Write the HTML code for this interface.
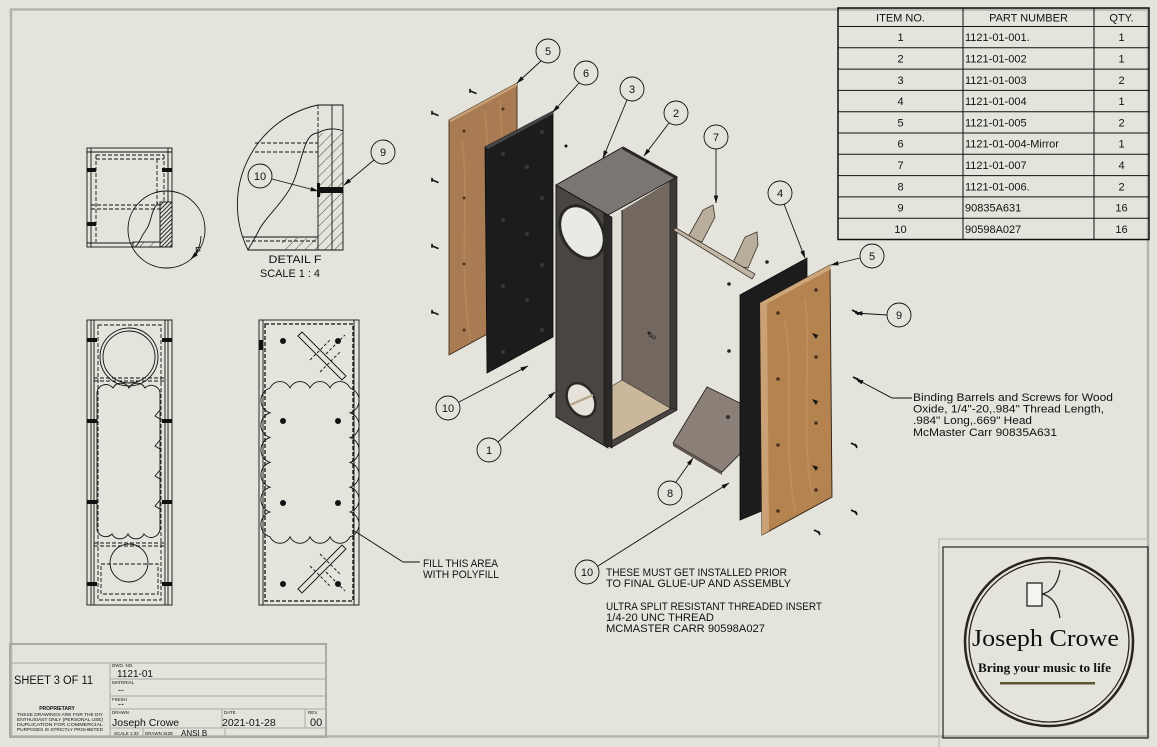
<!DOCTYPE html>
<html><head><meta charset="utf-8"><style>
html,body{margin:0;padding:0;background:#e5e4dc;}
svg{display:block;}
text{font-family:"Liberation Sans",sans-serif;fill:#111;}
</style></head><body>
<svg width="1157" height="747" viewBox="0 0 1157 747" xmlns="http://www.w3.org/2000/svg">
<defs>
<marker id="ar" markerWidth="8" markerHeight="6" refX="7.5" refY="3" orient="auto" markerUnits="userSpaceOnUse"><path d="M0,0.8 L8,3 L0,5.2 Z" fill="#111"/></marker>
<pattern id="hatch" width="3" height="3" patternUnits="userSpaceOnUse" patternTransform="rotate(45)"><rect width="3" height="3" fill="#e5e4dc"/><line x1="0" y1="0" x2="0" y2="3" stroke="#111" stroke-width="1.8"/></pattern>
<pattern id="hatch2" width="7" height="7" patternUnits="userSpaceOnUse" patternTransform="rotate(45)"><rect width="7" height="7" fill="#e5e4dc"/><line x1="0" y1="0" x2="0" y2="7" stroke="#222" stroke-width="0.8"/></pattern>
<g id="scr"><path d="M-3,-1.2 L3.5,1.6" stroke="#111" stroke-width="1.6"/><path d="M-3,-3.2 L-3,0.8" stroke="#111" stroke-width="1.6"/></g>
<g id="scr2"><path d="M-3,-2 L3,1" stroke="#111" stroke-width="1.8"/><path d="M1,-1 L3,3" stroke="#111" stroke-width="1.6"/></g>
</defs>
<rect width="1157" height="747" fill="#e5e4dc"/>
<rect x="11" y="9.5" width="1137" height="727" fill="none" stroke="#b4b3ad" stroke-width="2.5"/>

<!-- BOM TABLE -->
<g stroke="#111" fill="none" stroke-width="1">
<rect x="838" y="8" width="311" height="231.5" stroke-width="1.5"/>
<line x1="838" y1="26.5" x2="1149" y2="26.5"/>
<line x1="838" y1="47.8" x2="1149" y2="47.8"/>
<line x1="838" y1="69.1" x2="1149" y2="69.1"/>
<line x1="838" y1="90.4" x2="1149" y2="90.4"/>
<line x1="838" y1="111.7" x2="1149" y2="111.7"/>
<line x1="838" y1="133" x2="1149" y2="133"/>
<line x1="838" y1="154.3" x2="1149" y2="154.3"/>
<line x1="838" y1="175.6" x2="1149" y2="175.6"/>
<line x1="838" y1="196.9" x2="1149" y2="196.9"/>
<line x1="838" y1="218.2" x2="1149" y2="218.2"/>
<line x1="963" y1="8" x2="963" y2="239.5"/>
<line x1="1094" y1="8" x2="1094" y2="239.5"/>
</g>
<g font-size="11">
<text x="900.5" y="21.5" text-anchor="middle">ITEM NO.</text>
<text x="1028.5" y="21.5" text-anchor="middle">PART NUMBER</text>
<text x="1121.5" y="21.5" text-anchor="middle">QTY.</text>
<g text-anchor="middle">
<text x="900.5" y="41.2">1</text><text x="900.5" y="62.5">2</text><text x="900.5" y="83.8">3</text><text x="900.5" y="105.1">4</text><text x="900.5" y="126.4">5</text><text x="900.5" y="147.7">6</text><text x="900.5" y="169">7</text><text x="900.5" y="190.3">8</text><text x="900.5" y="211.6">9</text><text x="900.5" y="232.9">10</text>
<text x="1121.5" y="41.2">1</text><text x="1121.5" y="62.5">1</text><text x="1121.5" y="83.8">2</text><text x="1121.5" y="105.1">1</text><text x="1121.5" y="126.4">2</text><text x="1121.5" y="147.7">1</text><text x="1121.5" y="169">4</text><text x="1121.5" y="190.3">2</text><text x="1121.5" y="211.6">16</text><text x="1121.5" y="232.9">16</text>
</g>
<text x="965" y="41.2">1121-01-001.</text>
<text x="965" y="62.5">1121-01-002</text>
<text x="965" y="83.8">1121-01-003</text>
<text x="965" y="105.1">1121-01-004</text>
<text x="965" y="126.4">1121-01-005</text>
<text x="965" y="147.7">1121-01-004-Mirror</text>
<text x="965" y="169">1121-01-007</text>
<text x="965" y="190.3">1121-01-006.</text>
<text x="965" y="211.6">90835A631</text>
<text x="965" y="232.9">90598A027</text>
</g>

<!-- TOP-LEFT END VIEW -->
<g stroke="#111" stroke-width="0.9" fill="none">
<rect x="87" y="148" width="85" height="99"/>
<line x1="91" y1="148" x2="91" y2="247"/>
<line x1="168" y1="148" x2="168" y2="247"/>
<line x1="87" y1="152" x2="172" y2="152"/>
<line x1="87" y1="243" x2="172" y2="243"/>
<g stroke-dasharray="4,2">
<line x1="96" y1="155" x2="96" y2="242"/>
<line x1="164" y1="155" x2="164" y2="242"/>
<line x1="96" y1="155" x2="164" y2="155"/>
<line x1="96" y1="159" x2="164" y2="159"/>
<line x1="91" y1="205" x2="168" y2="205"/>
<line x1="91" y1="209" x2="160" y2="209"/>
<line x1="157" y1="159" x2="157" y2="205"/>
</g>
<rect x="160" y="202" width="12" height="45" fill="url(#hatch)"/>
<rect x="133" y="242" width="27" height="5" fill="url(#hatch2)"/>
<circle cx="166.5" cy="229.5" r="38.5"/>
<path d="M158,203 C150,212 152,222 146,230 C140,238 140,243 135,247"/>
<path d="M201,236 C201,244 198,252 191,259" marker-end="url(#ar)"/>
</g>
<rect x="87" y="168" width="9" height="4" fill="#111"/>
<rect x="87" y="222" width="9" height="4" fill="#111"/>
<rect x="162" y="168" width="10" height="4" fill="#111"/>
<text x="195" y="254" font-size="10">F</text>

<!-- DETAIL F -->
<g stroke="#111" stroke-width="0.9" fill="none">
<rect x="318" y="133" width="25" height="112" fill="url(#hatch2)" stroke="none"/>
<rect x="282" y="238" width="61" height="12" fill="url(#hatch2)" stroke="none"/>
<path d="M343,105 L318,105 A102,102 0 0 0 248,250 L343,250 Z"/>
<line x1="318" y1="105" x2="318" y2="133" stroke-dasharray="4,2"/>
<line x1="318" y1="133" x2="318" y2="250"/>
<line x1="332" y1="105" x2="332" y2="250"/>
<path d="M318,133 C326,128 336,128 343,131"/>
<line x1="255" y1="143" x2="318" y2="143" stroke-dasharray="4,2"/>
<line x1="255" y1="152" x2="318" y2="152" stroke-dasharray="4,2"/>
<line x1="243" y1="237" x2="318" y2="237"/>
<line x1="246" y1="241" x2="318" y2="241" stroke-dasharray="4,2"/>
<path d="M318,133 C306,133 304,150 296,175 C288,200 266,215 258,232 C254,240 250,246 248,250"/>
<line x1="272" y1="179" x2="318" y2="191" marker-end="url(#ar)"/>
<line x1="374" y1="160" x2="344" y2="185" marker-end="url(#ar)"/>
<circle cx="260" cy="176" r="12"/>
<circle cx="383" cy="152" r="12"/>
</g>
<rect x="320" y="187" width="23" height="6" fill="#111"/>
<rect x="317" y="183" width="3" height="14" fill="#111"/>
<text x="260" y="180" font-size="11" text-anchor="middle">10</text>
<text x="383" y="156" font-size="11" text-anchor="middle">9</text>
<text x="295" y="263" font-size="11" text-anchor="middle" textLength="53" lengthAdjust="spacingAndGlyphs">DETAIL F</text>
<text x="290" y="277" font-size="11" text-anchor="middle" textLength="60" lengthAdjust="spacingAndGlyphs">SCALE 1 : 4</text>

<!-- LEFT LONG VIEW -->
<g stroke="#111" stroke-width="0.9" fill="none">
<rect x="87" y="320" width="85" height="285"/>
<line x1="91" y1="320" x2="91" y2="605"/>
<line x1="94" y1="320" x2="94" y2="605"/>
<line x1="165" y1="320" x2="165" y2="605"/>
<line x1="168" y1="320" x2="168" y2="605"/>
<g stroke-dasharray="4,2">
<rect x="98" y="325" width="63" height="275"/>
<line x1="94" y1="378" x2="165" y2="378"/>
<line x1="94" y1="381" x2="165" y2="381"/>
<line x1="94" y1="543" x2="165" y2="543"/>
<line x1="94" y1="546" x2="165" y2="546"/>
<rect x="101" y="564" width="57" height="30"/>
</g>
<circle cx="129" cy="357" r="26"/>
<circle cx="129" cy="357" r="29"/>
<circle cx="129" cy="563" r="19"/>
<path d="M97,392 a9,9 0 0 1 16,-4 a9,9 0 0 1 16,0 a9,9 0 0 1 16,0 a9,9 0 0 1 15,4 L160,530 a9,9 0 0 1 -16,4 a9,9 0 0 1 -16,0 a9,9 0 0 1 -16,0 a9,9 0 0 1 -15,-4 Z"/>
<path d="M160,410 l-5,6 l5,3 M160,440 l-5,6 l5,3 M160,470 l-5,6 l5,3 M160,500 l-5,6 l5,3"/>
</g>
<g fill="#111">
<rect x="87" y="338" width="10" height="4"/><rect x="162" y="338" width="10" height="4"/>
<rect x="87" y="419" width="10" height="4"/><rect x="162" y="419" width="10" height="4"/>
<rect x="87" y="500" width="10" height="4"/><rect x="162" y="500" width="10" height="4"/>
<rect x="87" y="582" width="10" height="4"/><rect x="162" y="582" width="10" height="4"/>
</g>

<!-- RIGHT LONG VIEW -->
<g stroke="#111" stroke-width="0.9" fill="none">
<rect x="259" y="320" width="100" height="285"/>
<line x1="263" y1="320" x2="263" y2="605"/>
<line x1="354" y1="320" x2="354" y2="605"/>
<rect x="265" y="324" width="88" height="277" stroke-dasharray="4,2" stroke-width="1.3"/>
<path d="M270,388 a11,11 0 0 1 20,0 a11,11 0 0 1 20,0 a11,11 0 0 1 20,0 a11,11 0 0 1 20,0 a13,13 0 0 1 0,24.8 a13,13 0 0 1 0,24.8 a13,13 0 0 1 0,24.8 a13,13 0 0 1 0,24.8 a13,13 0 0 1 0,24.8 a13,13 0 0 1 0,24.8 a11,11 0 0 1 -20,0 a11,11 0 0 1 -20,0 a11,11 0 0 1 -20,0 a11,11 0 0 1 -20,0 a13,13 0 0 1 0,-24.8 a13,13 0 0 1 0,-24.8 a13,13 0 0 1 0,-24.8 a13,13 0 0 1 0,-24.8 a13,13 0 0 1 0,-24.8 a13,13 0 0 1 0,-24.8 Z"/>
<path d="M298,336 L302,332 L346,376 L342,380 Z"/>
<path d="M310,360 L330,340 M320,372 L340,352 M326,354 L345,335" stroke-dasharray="3,2"/>
<path d="M298,589 L302,593 L346,549 L342,545 Z"/>
<path d="M310,566 L330,586 M320,554 L340,574 M326,572 L345,591" stroke-dasharray="3,2"/>
<polyline points="353,530 403,562 420,562"/>
</g>
<g fill="#111">
<circle cx="283" cy="341" r="3"/><circle cx="338" cy="341" r="3"/>
<circle cx="283" cy="421" r="3"/><circle cx="338" cy="421" r="3"/>
<circle cx="283" cy="503" r="3"/><circle cx="338" cy="503" r="3"/>
<circle cx="283" cy="584" r="3"/><circle cx="338" cy="584" r="3"/>
<rect x="259" y="340" width="4" height="10"/>
</g>
<text x="423" y="567" font-size="11" textLength="75" lengthAdjust="spacingAndGlyphs">FILL THIS AREA</text>
<text x="423" y="578" font-size="11" textLength="76" lengthAdjust="spacingAndGlyphs">WITH POLYFILL</text>

<!-- ISOMETRIC: LEFT WOOD PANEL (5) -->
<polygon points="449,120 517,83 517,318 449,355" fill="#a87b52" stroke="#2a1d12" stroke-width="0.8"/>
<polygon points="449,120 517,83 517,86 451,122" fill="#c79f76"/>
<path d="M462,140 C470,200 458,260 470,340 M485,110 C492,180 480,250 490,330 M500,100 C505,160 498,230 508,320" stroke="#b98c62" stroke-width="2" fill="none" opacity="0.6"/>
<g fill="#4a3423">
<circle cx="464" cy="131" r="1.5"/><circle cx="503" cy="109" r="1.5"/>
<circle cx="464" cy="198" r="1.5"/><circle cx="464" cy="264" r="1.5"/><circle cx="464" cy="330" r="1.5"/>
</g>
<!-- BLACK PANEL (6) -->
<polygon points="485,147 553,111 553,337 487,373" fill="#1c1c1c" stroke="#0a0a0a" stroke-width="0.8"/>
<polygon points="485,147 553,111 553,114 488,149" fill="#444"/>
<g fill="#383838">
<circle cx="503" cy="154" r="2"/><circle cx="542" cy="132" r="2"/>
<circle cx="527" cy="167" r="2"/><circle cx="542" cy="198" r="2"/>
<circle cx="503" cy="220" r="2"/><circle cx="527" cy="234" r="2"/>
<circle cx="542" cy="265" r="2"/><circle cx="503" cy="286" r="2"/>
<circle cx="527" cy="300" r="2"/><circle cx="542" cy="330" r="2"/>
<circle cx="503" cy="352" r="2"/>
</g>

<!-- BOX (1,2,3) -->
<polygon points="611,217 677,177 677,410 611,448" fill="#726860"/>
<polygon points="612,216 622,210 622,382 612,386" fill="#e2ded6"/>
<line x1="622" y1="210" x2="622" y2="382" stroke="#222" stroke-width="1"/>
<polygon points="612,386 622,380 670,408 672,412 612,441" fill="#cbb79c" stroke="#333" stroke-width="0.6"/>
<polygon points="670,181 677,177 677,410 670,414" fill="#3e3935" stroke="#111" stroke-width="0.6"/>
<polygon points="611,441 672,408 677,410 611,448" fill="#4a4440" stroke="#111" stroke-width="0.6"/>
<polygon points="556,185 608,215 608,448 556,417" fill="#484542" stroke="#111" stroke-width="0.9"/>
<polygon points="604,213 612,217 612,448 604,444" fill="#2b2927" stroke="#111" stroke-width="0.6"/>
<polygon points="556,185 623,147 677,177 608,215" fill="#7c7672" stroke="#111" stroke-width="0.9"/>
<line x1="623" y1="148" x2="677" y2="178" stroke="#2a2725" stroke-width="3"/>
<ellipse cx="582" cy="232" rx="28" ry="20" transform="rotate(60 582 232)" fill="#ebe9e3" stroke="#2a2826" stroke-width="3"/>
<ellipse cx="581" cy="400" rx="18" ry="13" transform="rotate(60 581 400)" fill="#e6e2da" stroke="#2a2826" stroke-width="2.5"/>
<line x1="570" y1="405" x2="593" y2="395" stroke="#b9a98f" stroke-width="2.5"/>
<text x="648" y="336" font-size="7" fill="#222" transform="rotate(30 648 336)">oo</text>

<!-- BRACES (7) -->
<polygon points="688,237 703,210 713,205 715,217 702,242" fill="#b9ae9c" stroke="#3a332b" stroke-width="0.8"/>
<polygon points="732,265 745,237 757,232 758,245 748,268" fill="#b9ae9c" stroke="#3a332b" stroke-width="0.8"/>
<polygon points="673,230 676,228 755,274 752,279" fill="#c2b7a5" stroke="#3a332b" stroke-width="0.8"/>

<!-- PLATE (8) -->
<polygon points="673,443 707,387 742,404 742,452 722,472" fill="#8b8077" stroke="#2a2520" stroke-width="0.9"/>
<polygon points="673,443 722,472 722,475 673,446" fill="#5e554d"/>
<circle cx="728" cy="417" r="2" fill="#333"/>

<!-- RIGHT BLACK PANEL (4) -->
<polygon points="740,295 807,258 807,492 740,520" fill="#1c1c1c" stroke="#0a0a0a" stroke-width="0.8"/>
<!-- RIGHT WOOD PANEL (5) -->
<polygon points="760,303 830,265 832,497 762,535" fill="#b5834f" stroke="#2a1d12" stroke-width="0.9"/>
<polygon points="760,303 767,300 769,531 762,535" fill="#caa075"/>
<polygon points="760,303 830,265 831,269 766,304" fill="#cda679"/>
<path d="M785,320 C795,380 782,440 795,510 M805,300 C812,360 800,430 812,495" stroke="#c39465" stroke-width="2" fill="none" opacity="0.6"/>
<g fill="#4a3020">
<circle cx="778" cy="313" r="1.8"/><circle cx="778" cy="379" r="1.8"/><circle cx="778" cy="445" r="1.8"/><circle cx="778" cy="511" r="1.8"/>
<circle cx="816" cy="290" r="1.8"/><circle cx="816" cy="357" r="1.8"/><circle cx="816" cy="423" r="1.8"/><circle cx="816" cy="490" r="1.8"/>
</g>
<g fill="#111">
<path d="M812,333 l6,2 l-2,4 z"/><path d="M812,399 l6,2 l-2,4 z"/><path d="M812,465 l6,2 l-2,4 z"/>
</g>

<!-- SCREWS -->
<use href="#scr" x="473" y="92"/>
<use href="#scr" x="435" y="114"/>
<use href="#scr" x="435" y="181"/>
<use href="#scr" x="435" y="247"/>
<use href="#scr" x="435" y="313"/>
<circle cx="566" cy="146" r="1.5" fill="#111"/>
<circle cx="767" cy="262" r="1.8" fill="#222"/>
<circle cx="729" cy="284" r="1.8" fill="#222"/>
<circle cx="729" cy="351" r="1.8" fill="#222"/>
<circle cx="649" cy="333" r="1.5" fill="#222"/>
<use href="#scr2" x="855" y="312"/>
<use href="#scr2" x="856" y="379"/>
<use href="#scr2" x="854" y="445"/>
<use href="#scr2" x="854" y="512"/>
<use href="#scr2" x="817" y="532"/>

<!-- BALLOONS & LEADERS -->
<g stroke="#111" stroke-width="0.9" fill="none">
<line x1="541" y1="61" x2="517" y2="83" marker-end="url(#ar)"/>
<line x1="579" y1="83" x2="553" y2="112" marker-end="url(#ar)"/>
<line x1="627" y1="100" x2="603" y2="158" marker-end="url(#ar)"/>
<line x1="669" y1="123" x2="644" y2="156" marker-end="url(#ar)"/>
<line x1="716" y1="149" x2="716" y2="203" marker-end="url(#ar)"/>
<line x1="784" y1="204" x2="805" y2="258" marker-end="url(#ar)"/>
<line x1="860" y1="258" x2="831" y2="265" marker-end="url(#ar)"/>
<line x1="887" y1="315" x2="855" y2="313" marker-end="url(#ar)"/>
<line x1="459" y1="402" x2="528" y2="366" marker-end="url(#ar)"/>
<line x1="498" y1="442" x2="555" y2="392" marker-end="url(#ar)"/>
<line x1="676" y1="482" x2="693" y2="458" marker-end="url(#ar)"/>
<line x1="598" y1="566" x2="729" y2="483" marker-end="url(#ar)"/>
<polyline points="912,398 892,398 856,379" marker-end="url(#ar)"/>
<circle cx="548" cy="51" r="12"/>
<circle cx="586" cy="73" r="12"/>
<circle cx="632" cy="89" r="12"/>
<circle cx="676" cy="113" r="12"/>
<circle cx="716" cy="137" r="12"/>
<circle cx="780" cy="193" r="12"/>
<circle cx="872" cy="256" r="12"/>
<circle cx="899" cy="315" r="12"/>
<circle cx="448" cy="408" r="12"/>
<circle cx="489" cy="450" r="12"/>
<circle cx="670" cy="493" r="12"/>
<circle cx="587" cy="572" r="12"/>
</g>
<g font-size="11" text-anchor="middle">
<text x="548" y="55">5</text>
<text x="586" y="77">6</text>
<text x="632" y="93">3</text>
<text x="676" y="117">2</text>
<text x="716" y="141">7</text>
<text x="780" y="197">4</text>
<text x="872" y="260">5</text>
<text x="899" y="319">9</text>
<text x="448" y="412">10</text>
<text x="489" y="454">1</text>
<text x="670" y="497">8</text>
<text x="587" y="576">10</text>
</g>

<!-- NOTES -->
<g font-size="11">
<text x="606" y="576" textLength="181" lengthAdjust="spacingAndGlyphs">THESE MUST GET INSTALLED PRIOR</text>
<text x="606" y="587" textLength="185" lengthAdjust="spacingAndGlyphs">TO FINAL GLUE-UP AND ASSEMBLY</text>
<text x="606" y="610" textLength="216" lengthAdjust="spacingAndGlyphs">ULTRA SPLIT RESISTANT THREADED INSERT</text>
<text x="606" y="621" textLength="108" lengthAdjust="spacingAndGlyphs">1/4-20 UNC THREAD</text>
<text x="606" y="632" textLength="159" lengthAdjust="spacingAndGlyphs">MCMASTER CARR 90598A027</text>
<text x="913" y="401" textLength="200" lengthAdjust="spacingAndGlyphs">Binding Barrels and Screws for Wood</text>
<text x="913" y="412.5" textLength="191" lengthAdjust="spacingAndGlyphs">Oxide, 1/4"-20,.984" Thread Length,</text>
<text x="913" y="424" textLength="119" lengthAdjust="spacingAndGlyphs">.984" Long,.669" Head</text>
<text x="913" y="436" textLength="144" lengthAdjust="spacingAndGlyphs">McMaster Carr 90835A631</text>
</g>

<!-- TITLE BLOCK -->
<g stroke="#aaa9a3" fill="none">
<rect x="10" y="644" width="316" height="93" stroke-width="2"/>
<line x1="10" y1="663" x2="326" y2="663" stroke-width="1"/>
<line x1="110" y1="663" x2="110" y2="737" stroke-width="1"/>
<line x1="110" y1="679" x2="326" y2="679" stroke-width="1"/>
<line x1="110" y1="696" x2="326" y2="696" stroke-width="1"/>
<line x1="110" y1="709" x2="326" y2="709" stroke-width="1"/>
<line x1="110" y1="728" x2="326" y2="728" stroke-width="1"/>
<line x1="222" y1="709" x2="222" y2="728" stroke-width="1"/>
<line x1="305" y1="709" x2="305" y2="728" stroke-width="1"/>
<line x1="143" y1="728" x2="143" y2="737" stroke-width="1"/>
<line x1="225" y1="728" x2="225" y2="737" stroke-width="1"/>
</g>
<text x="14" y="684" font-size="11.5" textLength="79" lengthAdjust="spacingAndGlyphs">SHEET 3 OF 11</text>
<text x="57" y="710" font-size="5" font-weight="bold" text-anchor="middle">PROPRIETARY</text>
<g font-size="4.6" fill="#222">
<text x="17" y="716" textLength="86" lengthAdjust="spacingAndGlyphs">THESE DRAWINGS ARE FOR THE DIY</text>
<text x="17" y="721" textLength="86" lengthAdjust="spacingAndGlyphs">ENTHUSIAST ONLY (PERSONAL USE)</text>
<text x="17" y="726" textLength="86" lengthAdjust="spacingAndGlyphs">DUPLICATION FOR COMMERCIAL</text>
<text x="17" y="731" textLength="86" lengthAdjust="spacingAndGlyphs">PURPOSES IS STRICTLY PROHIBITED</text>
</g>
<g font-size="4.5" fill="#444">
<text x="112" y="667">DWG. NO.</text>
<text x="112" y="684">MATERIAL</text>
<text x="112" y="701">FINISH</text>
<text x="112" y="714">DRAWN</text>
<text x="224" y="714">DATE</text>
<text x="308" y="714">REV.</text>
<text x="114" y="735">SCALE 1:32</text>
<text x="145" y="735">DRAWN SIZE</text>
</g>
<text x="117" y="677" font-size="10">1121-01</text>
<text x="118" y="693" font-size="9">--</text>
<text x="118" y="707" font-size="9">--</text>
<text x="112" y="726" font-size="10.5">Joseph Crowe</text>
<text x="222" y="726" font-size="10.5">2021-01-28</text>
<text x="310" y="726" font-size="11">00</text>
<text x="181" y="736" font-size="8">ANSI B</text>

<!-- LOGO -->
<g fill="none">
<polyline points="939,747 939,539 1148,539" stroke="#c4c3bd" stroke-width="1.5"/>
<rect x="943" y="547" width="205" height="191" stroke="#222" stroke-width="1.2"/>
<circle cx="1049" cy="642" r="84" stroke="#2a2420" stroke-width="2.5"/>
<circle cx="1049" cy="642" r="80" stroke="#2a2420" stroke-width="1.3"/>
<rect x="1027" y="583" width="15" height="23" stroke="#222" stroke-width="1.3" fill="#f5f5f0"/>
<path d="M1042,594 C1052,592 1058,583 1060,570" stroke="#222" stroke-width="1.2"/>
<path d="M1042,594 C1052,596 1058,605 1060,618" stroke="#222" stroke-width="1.2"/>
</g>
<text x="972" y="646" font-size="24" fill="#2a2520" textLength="147" lengthAdjust="spacingAndGlyphs" style="font-family:'Liberation Serif',serif">Joseph Crowe</text>
<text x="978" y="672" font-size="13" font-weight="bold" fill="#1e1a16" textLength="133" lengthAdjust="spacingAndGlyphs" style="font-family:'Liberation Serif',serif">Bring your music to life</text>
<rect x="1000" y="682" width="95" height="2.5" fill="#5a5430"/>
</svg>
</body></html>
